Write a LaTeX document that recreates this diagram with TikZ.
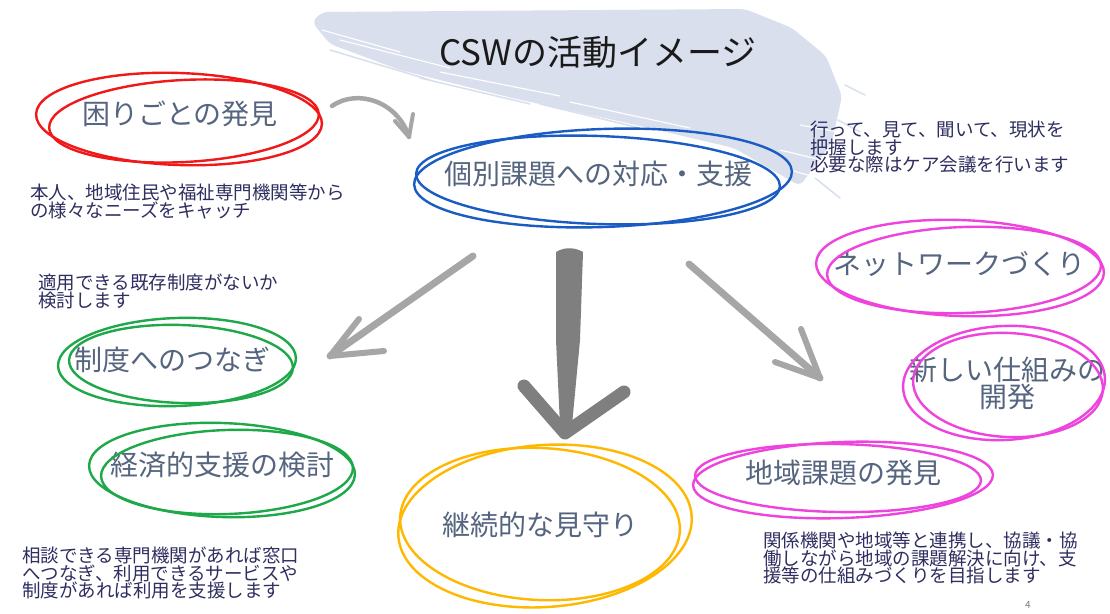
\documentclass[tikz,border=0pt]{standalone}
\usepackage{fontspec}
\setmainfont{Noto Sans CJK JP}
\usetikzlibrary{calc}
\definecolor{lav}{HTML}{DADFED}
\definecolor{lbl}{HTML}{56657F}
\definecolor{navy}{HTML}{2E2E60}
\definecolor{cred}{HTML}{F01818}
\definecolor{cblue}{HTML}{1A5BC4}
\definecolor{cpink}{HTML}{EE44DD}
\definecolor{cgreen}{HTML}{1EA849}
\definecolor{cyel}{HTML}{FFB800}
\definecolor{agray}{HTML}{A6A6A6}
\definecolor{dgray}{HTML}{7F7F7F}
\definecolor{ttl}{HTML}{1A1A1A}
\begin{document}
\begin{tikzpicture}[x=1pt,y=-1pt,
  lab/.style={text=lbl, font=\fontsize{28}{27}\selectfont, inner sep=0pt, align=center},
  note/.style={text=navy, font=\fontsize{18.5}{17.5}\selectfont, inner sep=0pt, align=left, anchor=north west},
  loopline/.style={line width=2.4pt, line cap=round},
  arrline/.style={agray, line width=7pt, line cap=round, line join=round},
  darrline/.style={dgray, line width=13pt, line cap=round, line join=round}]
\useasboundingbox (0,0) rectangle (1110,613);
\fill[white] (0,0) rectangle (1110,613);
% brush background
\fill[lav, rounded corners=6pt] (312,22) -- (322,12) -- (745,9) -- (792,28) -- (826,56) -- (842,96) -- (832,142) -- (800,186) -- (734,148) -- (623,122) -- (512,98) -- (400,70) -- (330,44) -- cycle;
\begin{scope}[lav, line width=1.5pt, line cap=round]
  \draw (330,50) -- (430,80);
  \draw (420,78) -- (530,104);
  \draw (540,104) -- (640,128);
  \draw (845,85) -- (865,95);
  \draw (838,120) -- (860,132);
  \draw (815,178) -- (840,198);
\end{scope}
\begin{scope}[white, line width=1.1pt, line cap=round]
  \draw (322,30) -- (400,52);
  \draw (340,40) -- (450,68);
  \draw (440,72) -- (560,96);
  \draw (570,102) -- (690,128);
  \draw (780,150) -- (830,162);
  \draw (800,125) -- (838,132);
  \draw (790,170) -- (818,178);
\end{scope}
% title
\node[text=ttl, font=\fontsize{35}{35}\selectfont, inner sep=0pt] (title) at (598,52) {CSWの活動イメージ};
% red
\node[lab] (komari) at (180,114) {困りごとの発見};
\draw[cred, loopline] (179,119) ellipse [x radius=143, y radius=46, rotate=-2];
\draw[cred, loopline] (184,121) ellipse [x radius=135, y radius=41, rotate=3];
\node[note] (n1) at (30,184) {本人、地域住民や福祉専門機関等から\\の様々なニーズをキャッチ};
% blue
\node[lab] (kobetsu) at (598,174) {個別課題への対応・支援};
\draw[cblue, loopline] (603,178) ellipse [x radius=189, y radius=49, rotate=2];
\draw[cblue, loopline] (598,180) ellipse [x radius=182, y radius=44, rotate=-2];
\node[note] (n2) at (810,121) {行って、見て、聞いて、現状を\\把握します\\必要な際はケア会議を行います};
% pink 1
\node[lab] (network) at (959,264) {ネットワークづくり};
\draw[cpink, loopline] (960,268) ellipse [x radius=144, y radius=48, rotate=-2];
\draw[cpink, loopline] (964,270) ellipse [x radius=137, y radius=43, rotate=2];
% pink 2
\node[lab] (shikumi) at (1007,383) {新しい仕組みの\\開発};
\draw[cpink, loopline] (1004,383) ellipse [x radius=101, y radius=57, rotate=3];
\draw[cpink, loopline] (1008,385) ellipse [x radius=95, y radius=52, rotate=-3];
% pink 3
\node[lab] (chiiki) at (843,473) {地域課題の発見};
\draw[cpink, loopline] (843,480) ellipse [x radius=150, y radius=38, rotate=2];
\draw[cpink, loopline] (838,478) ellipse [x radius=143, y radius=34, rotate=-1];
\node[note] (n5) at (763,532) {関係機関や地域等と連携し、協議・協\\働しながら地域の課題解決に向け、支\\援等の仕組みづくりを目指します};
% green 1
\node[lab] (seido) at (172,360) {制度へのつなぎ};
\draw[cgreen, loopline] (177,362) ellipse [x radius=119, y radius=44, rotate=2];
\draw[cgreen, loopline] (181,364) ellipse [x radius=112, y radius=39, rotate=-2];
\node[note] (n3) at (38,274) {適用できる既存制度がないか\\検討します};
% green 2
\node[lab] (keizai) at (222,465) {経済的支援の検討};
\draw[cgreen, loopline] (222,470) ellipse [x radius=133, y radius=47, rotate=-2];
\draw[cgreen, loopline] (227,472) ellipse [x radius=126, y radius=42, rotate=2];
\node[note] (n4) at (22,547) {相談できる専門機関があれば窓口\\へつなぎ、利用できるサービスや\\制度があれば利用を支援します};
% yellow
\node[lab] (mimamori) at (540,525) {継続的な見守り};
\draw[cyel, loopline] (545,526) ellipse [x radius=147, y radius=81, rotate=4];
\draw[cyel, loopline] (540,524) ellipse [x radius=140, y radius=76, rotate=-3];
% page number
\node[text=gray, font=\fontsize{10}{10}\selectfont, inner sep=0pt] (pg) at (1028,605) {4};
% arrows
\coordinate (ca1) at (332,106);
\coordinate (ca2) at (409,137);
\coordinate (cah1) at (395,121);
\coordinate (cah2) at (413,114);
\draw[agray, line width=4.5pt, line cap=round] (ca1) .. controls (358,88) and (398,102) .. (ca2);
\draw[agray, line width=4pt, line cap=round, line join=round] (cah1) -- (ca2) -- (cah2);
\coordinate (la1) at (473,256);
\coordinate (la2) at (330,356);
\coordinate (lah1) at (359,319);
\coordinate (lah2) at (384,351);
\draw[arrline] (la1) -- (la2);
\draw[agray, line width=6pt, line cap=round, line join=round] (lah1) -- (la2) -- (lah2);
\coordinate (ra1) at (689,264);
\coordinate (ra2) at (820,378);
\coordinate (rah1) at (801,329);
\coordinate (rah2) at (775,362);
\draw[arrline] (ra1) -- (ra2);
\draw[agray, line width=6pt, line cap=round, line join=round] (rah1) -- (ra2) -- (rah2);
\coordinate (ma2) at (565,433);
\coordinate (mah1) at (524,386);
\coordinate (mah2) at (624,392);
\fill[dgray] (556,252) .. controls (566,246) and (576,248) .. (583,252) -- (580,340) -- (572,425) -- (560,425) -- (556,340) -- cycle;
\draw[darrline] (mah1) -- (ma2) -- (mah2);
\end{tikzpicture}
\end{document}
